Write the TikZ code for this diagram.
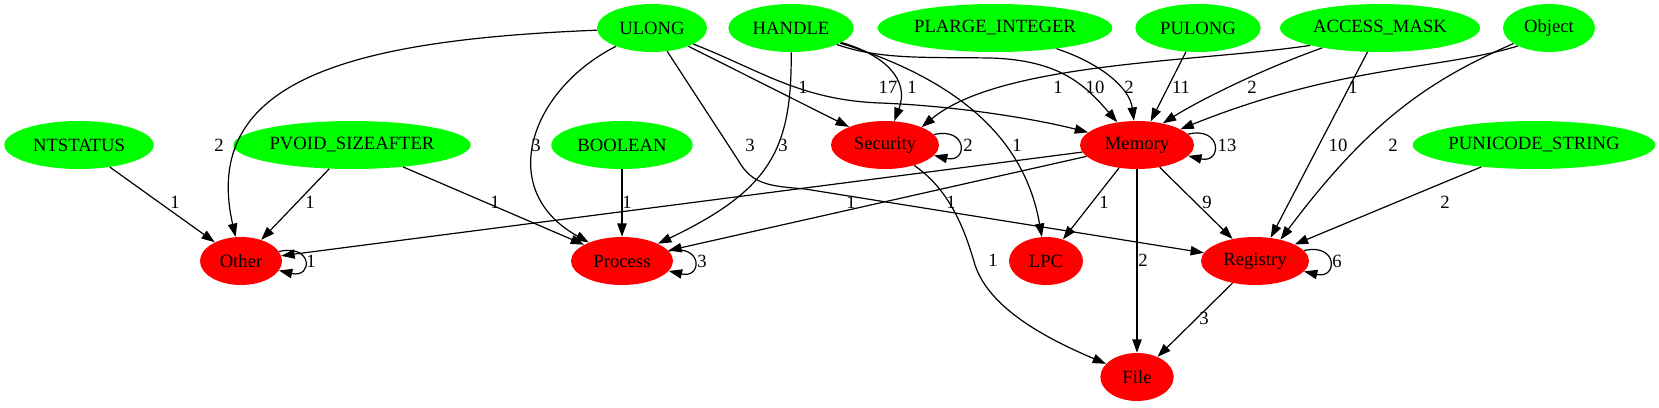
\documentclass[tikz,border=0pt]{standalone}
\usepackage{fontspec}
\setmainfont{Liberation Serif}
\usepackage{xcolor}
\usetikzlibrary{arrows.meta,shapes.geometric}
\definecolor{gvgreen}{HTML}{00FF00}
\definecolor{gvred}{HTML}{FF0000}

\begin{document}
\begin{tikzpicture}[x=0.75pt, y=-0.75pt,
  every node/.style={font=\fontsize{14pt}{16pt}\selectfont},
  typenode/.style={ellipse, fill=gvgreen, inner sep=0pt, minimum height=36pt},
  catnode/.style={ellipse, fill=gvred, inner sep=0pt, minimum height=36pt},
  lbl/.style={inner sep=0pt},
  link/.style={-{Triangle[length=10pt,width=7pt]}, line width=0.9pt}]
\useasboundingbox (0,0) rectangle (1659,407);
% Argument types
\node[typenode, minimum width=82.5pt] (ulong) at (652, 28) {ULONG};
\node[typenode, minimum width=94pt] (handle) at (791, 28) {HANDLE};
\node[typenode, minimum width=176pt] (plarge) at (995, 28) {PLARGE\_INTEGER};
\node[typenode, minimum width=94pt] (pulong) at (1198, 28) {PULONG};
\node[typenode, minimum width=150pt] (accmask) at (1380, 28) {ACCESS\_MASK};
\node[typenode, minimum width=69pt] (object) at (1549, 28) {Object};
\node[typenode, minimum width=112pt] (ntstatus) at (79, 145) {NTSTATUS};
\node[typenode, minimum width=178pt] (pvoid) at (352, 145) {PVOID\_SIZEAFTER};
\node[typenode, minimum width=106pt] (boolean) at (622, 145) {BOOLEAN};
\node[typenode, minimum width=182pt] (punicode) at (1534, 145) {PUNICODE\_STRING};
% Categories
\node[catnode, minimum width=81pt] (security) at (885, 145) {Security};
\node[catnode, minimum width=85.5pt] (memory) at (1137, 145) {Memory};
\node[catnode, minimum width=61.5pt] (other) at (241, 261) {Other};
\node[catnode, minimum width=76.5pt] (process) at (622, 261) {Process};
\node[catnode, minimum width=55.5pt] (lpc) at (1046, 261) {LPC};
\node[catnode, minimum width=81pt] (registry) at (1255, 261) {Registry};
\node[catnode, minimum width=55pt] (file) at (1137, 377) {File};

% ULONG
\draw[link] (ulong) .. controls (350,40) and (200,80) .. (other) node[lbl] at (219,145) {2};
\draw[link] (ulong) .. controls (530,90) and (495,190) .. (process) node[lbl] at (536,145) {3};
\draw[link] (ulong) -- (738,160) .. controls (752,185) and (770,186) .. (805,189) -- (registry) node[lbl] at (750,145) {3};
\draw[link] (ulong) -- (security) node[lbl] at (803,87) {1};
\draw[link] (ulong) .. controls (760,70) and (800,100) .. (880,103) .. controls (960,106) and (1040,120) .. (memory) node[lbl] at (888,87) {17};
% HANDLE
\draw[link] (handle) .. controls (792,150) and (770,190) .. (process) node[lbl] at (783,145) {3};
\draw[link] (handle) .. controls (885,55) and (910,80) .. (security) node[lbl] at (912,87) {1};
\draw[link] (handle) .. controls (960,80) and (1025,140) .. (lpc) node[lbl] at (1017,145) {1};
\draw[link] (handle) .. controls (880,60) and (930,57) .. (990,58) .. controls (1060,60) and (1085,85) .. (memory) node[lbl] at (1095,87) {10};
% PLARGE_INTEGER, PULONG
\draw[link] (plarge) .. controls (1105,65) and (1130,90) .. (memory) node[lbl] at (1129,87) {2};
\draw[link] (pulong) -- (memory.60) node[lbl] at (1181,87) {11};
% ACCESS_MASK
\draw[link] (accmask.194) .. controls (1200,62) and (1000,62) .. (security.26) node[lbl] at (1058,87) {1};
\draw[link] (accmask.199) .. controls (1260,70) and (1200,100) .. (memory.40) node[lbl] at (1252,87) {2};
\draw[link] (accmask) -- (registry.56) node[lbl] at (1338,145) {10};
% Object
\draw[link] (object.210) .. controls (1440,70) and (1340,65) .. (memory.20) node[lbl] at (1353,87) {1};
\draw[link] (object) .. controls (1430,80) and (1370,120) .. (registry.40) node[lbl] at (1393,145) {2};
% middle row types
\draw[link] (punicode) -- (registry) node[lbl] at (1445,202) {2};
\draw[link] (ntstatus) -- (other) node[lbl] at (175,202) {1};
\draw[link] (pvoid) -- (other) node[lbl] at (310,202) {1};
\draw[link] (pvoid) -- (process) node[lbl] at (495,202) {1};
\draw[link] (boolean) -- (process) node[lbl] at (627,202) {1};
% Security, Memory
\draw[link] (security.-35) .. controls (950,190) and (965,230) .. (975,265) .. controls (990,310) and (1050,340) .. (file) node[lbl] at (993,260) {1};
\draw[link] (memory) -- (other) node[lbl] at (851,202) {1};
\draw[link] (memory) -- (process) node[lbl] at (951,202) {1};
\draw[link] (memory) -- (lpc) node[lbl] at (1104,202) {1};
\draw[link] (memory) -- (file) node[lbl] at (1143,260) {2};
\draw[link] (memory) -- (registry) node[lbl] at (1207,202) {9};
\draw[link] (registry) -- (file) node[lbl] at (1204,318) {3};
% self loops
\draw[link] (security.12) .. controls +(34,-8) and +(34,8) .. (security.-12) node[lbl] at (968,145) {2};
\draw[link] (memory.12) .. controls +(34,-8) and +(34,8) .. (memory.-12) node[lbl] at (1227,145) {13};
\draw[link] (other.14) .. controls +(34,-8) and +(34,8) .. (other.-14) node[lbl] at (311,261) {1};
\draw[link] (process.12) .. controls +(34,-8) and +(34,8) .. (process.-12) node[lbl] at (702,261) {3};
\draw[link] (registry.12) .. controls +(34,-8) and +(34,8) .. (registry.-12) node[lbl] at (1337,261) {6};
\end{tikzpicture}
\end{document}
